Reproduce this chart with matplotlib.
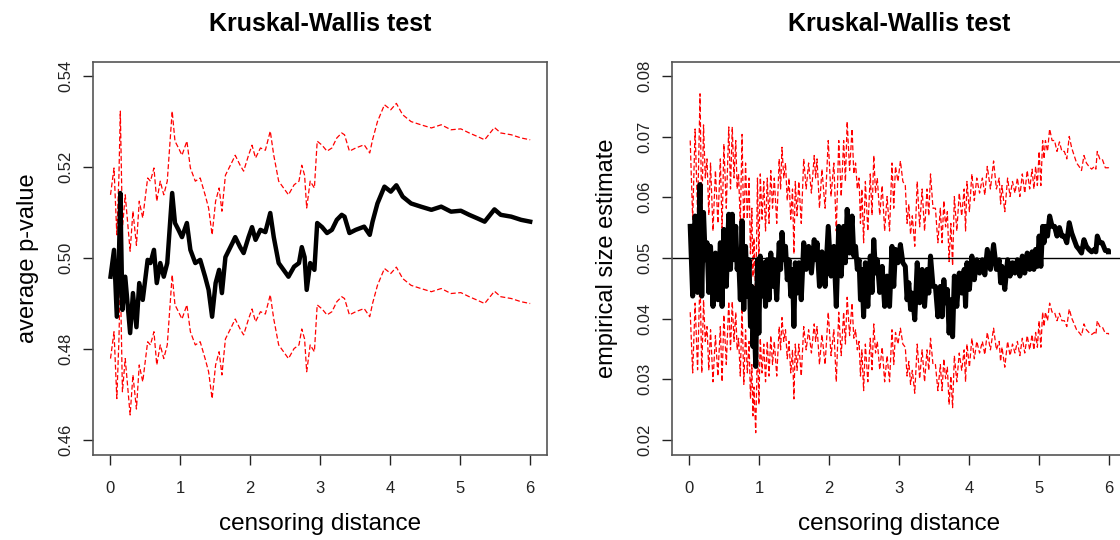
import numpy as np
import matplotlib
matplotlib.use("Agg")
import matplotlib.pyplot as plt

plt.rcParams['font.family'] = ['Liberation Sans', 'DejaVu Sans']

# left panel: average p-value vs censoring distance
pval_x = [0.01, 0.06, 0.10, 0.13, 0.15, 0.18, 0.22, 0.29, 0.33, 0.38, 0.42, 0.47,
          0.54, 0.58, 0.63, 0.67, 0.72, 0.77, 0.82, 0.89, 0.93, 0.98, 1.03, 1.10,
          1.15, 1.22, 1.29, 1.36, 1.41, 1.46, 1.51, 1.56, 1.60, 1.65, 1.75, 1.79,
          1.86, 1.91, 1.98, 2.03, 2.08, 2.15, 2.22, 2.29, 2.34, 2.41, 2.48, 2.55,
          2.63, 2.70, 2.74, 2.78, 2.81, 2.86, 2.92, 2.96, 3.03, 3.10, 3.17, 3.24,
          3.31, 3.35, 3.42, 3.51, 3.63, 3.71, 3.75, 3.82, 3.92, 4.01, 4.09, 4.18,
          4.30, 4.44, 4.59, 4.73, 4.87, 5.01, 5.13, 5.25, 5.35, 5.49, 5.58, 5.73,
          5.87, 6.00]
pval_mean = [0.4959, 0.5018, 0.4871, 0.5000, 0.5143, 0.4886, 0.4959, 0.4835, 0.4923,
             0.4848, 0.4945, 0.4908, 0.4996, 0.4989, 0.5018, 0.4945, 0.4989, 0.4959,
             0.4989, 0.5143, 0.5077, 0.5062, 0.5046, 0.5077, 0.5018, 0.4989, 0.4996,
             0.4959, 0.4930, 0.4871, 0.4945, 0.4974, 0.4923, 0.5002, 0.5033, 0.5046,
             0.5024, 0.5011, 0.5046, 0.5068, 0.5040, 0.5062, 0.5057, 0.5099, 0.5046,
             0.4989, 0.4974, 0.4959, 0.4981, 0.4989, 0.5024, 0.5002, 0.4930, 0.4989,
             0.4974, 0.5077, 0.5068, 0.5055, 0.5062, 0.5084, 0.5095, 0.5091, 0.5055,
             0.5062, 0.5069, 0.5051, 0.5080, 0.5120, 0.5157, 0.5146, 0.5160, 0.5135,
             0.5120, 0.5113, 0.5106, 0.5113, 0.5102, 0.5104, 0.5095, 0.5087, 0.5080,
             0.5107, 0.5095, 0.5091, 0.5084, 0.5080]
pval_band = 0.018   # half width of the red band

# right panel: empirical size, upper/lower edge of the jagged line
size_x = [0.02, 0.09, 0.16, 0.21, 0.26, 0.31, 0.38, 0.45, 0.50, 0.57, 0.62, 0.67,
          0.71, 0.76, 0.81, 0.86, 0.90, 0.93, 0.98, 1.02, 1.07, 1.12, 1.17, 1.22,
          1.29, 1.33, 1.38, 1.43, 1.48, 1.52, 1.57, 1.64, 1.71, 1.79, 1.83, 1.90,
          1.99, 2.07, 2.14, 2.21, 2.26, 2.33, 2.38, 2.43, 2.47, 2.52, 2.59, 2.64,
          2.69, 2.76, 2.83, 2.90, 2.95, 3.02, 3.09, 3.14, 3.19, 3.26, 3.33, 3.40,
          3.45, 3.52, 3.59, 3.64, 3.69, 3.74, 3.79, 3.86, 3.93, 3.97, 4.04, 4.11,
          4.19, 4.26, 4.35, 4.43, 4.47, 4.55, 4.62, 4.69, 4.76, 4.83, 4.90, 4.95,
          5.00, 5.05, 5.09, 5.15, 5.22, 5.29, 5.36, 5.43, 5.50, 5.57, 5.64, 5.71,
          5.79, 5.83, 5.90, 5.99]
size_hi = [0.0552, 0.0569, 0.0621, 0.0575, 0.0525, 0.0519, 0.0508, 0.0525, 0.0547,
           0.0572, 0.0572, 0.0552, 0.0503, 0.0561, 0.0519, 0.0497, 0.0453, 0.0410,
           0.0497, 0.0503, 0.0492, 0.0497, 0.0508, 0.0497, 0.0525, 0.0542, 0.0519,
           0.0497, 0.0481, 0.0492, 0.0492, 0.0525, 0.0519, 0.0530, 0.0525, 0.0510,
           0.0552, 0.0519, 0.0552, 0.0552, 0.0580, 0.0569, 0.0519, 0.0497, 0.0481,
           0.0492, 0.0503, 0.0530, 0.0497, 0.0486, 0.0470, 0.0519, 0.0514, 0.0522,
           0.0486, 0.0459, 0.0442, 0.0492, 0.0481, 0.0481, 0.0503, 0.0453, 0.0453,
           0.0464, 0.0448, 0.0431, 0.0470, 0.0475, 0.0481, 0.0492, 0.0503, 0.0497,
           0.0497, 0.0514, 0.0522, 0.0497, 0.0486, 0.0497, 0.0492, 0.0497, 0.0503,
           0.0508, 0.0510, 0.0514, 0.0536, 0.0552, 0.0552, 0.0569, 0.0552, 0.0550,
           0.0536, 0.0558, 0.0530, 0.0514, 0.0530, 0.0514, 0.0514, 0.0536, 0.0525,
           0.0512]
size_lo = [0.0437, 0.0443, 0.0437, 0.0497, 0.0443, 0.0420, 0.0431, 0.0420, 0.0453,
           0.0481, 0.0497, 0.0481, 0.0431, 0.0415, 0.0437, 0.0387, 0.0354, 0.0321,
           0.0376, 0.0437, 0.0420, 0.0431, 0.0453, 0.0431, 0.0481, 0.0497, 0.0464,
           0.0437, 0.0387, 0.0442, 0.0431, 0.0481, 0.0475, 0.0497, 0.0453, 0.0453,
           0.0470, 0.0420, 0.0470, 0.0492, 0.0508, 0.0503, 0.0481, 0.0431, 0.0403,
           0.0420, 0.0443, 0.0475, 0.0443, 0.0420, 0.0420, 0.0453, 0.0492, 0.0492,
           0.0431, 0.0415, 0.0398, 0.0426, 0.0420, 0.0442, 0.0453, 0.0403, 0.0403,
           0.0426, 0.0376, 0.0370, 0.0420, 0.0442, 0.0420, 0.0448, 0.0464, 0.0475,
           0.0472, 0.0481, 0.0481, 0.0459, 0.0448, 0.0470, 0.0475, 0.0470, 0.0475,
           0.0481, 0.0481, 0.0486, 0.0486, 0.0525, 0.0536, 0.0552, 0.0536, 0.0536,
           0.0525, 0.0541, 0.0519, 0.0508, 0.0519, 0.0510, 0.0510, 0.0525, 0.0512,
           0.0510]
n_rep = 1000        # replications behind the size estimate
nominal = 0.05

x_ticks = [0, 1, 2, 3, 4, 5, 6]
pval_ticks = [0.46, 0.48, 0.50, 0.52, 0.54]
size_ticks = [0.02, 0.03, 0.04, 0.05, 0.06, 0.07, 0.08]

# jagged size line: alternate between the upper and lower edge
sx = np.array(size_x)
mids = np.append((sx[:-1] + sx[1:]) / 2, sx[-1])
size_line_x = np.column_stack([sx, mids]).ravel()
size_line = np.column_stack([size_hi, size_lo]).ravel()
size_half = 1.96 * np.sqrt(size_line * (1 - size_line) / n_rep)

pm = np.array(pval_mean)

fig = plt.figure(figsize=(11.2, 5.4), dpi=100)
ax1 = fig.add_axes([93 / 1120, 85 / 540, 454 / 1120, 393 / 540])
ax2 = fig.add_axes([672 / 1120, 85 / 540, 454 / 1120, 393 / 540])

dash = (0, (4, 2))
ax1.plot(pval_x, pm + pval_band, color='red', lw=0.9, ls=dash)
ax1.plot(pval_x, pm - pval_band, color='red', lw=0.9, ls=dash)
ax1.plot(pval_x, pm, color='black', lw=3.2)
ax1.set_ylim(0.4567, 0.5431)
ax1.set_yticks(pval_ticks)
ax1.set_yticklabels(['0.46', '0.48', '0.50', '0.52', '0.54'])
ax1.set_ylabel('average p-value', fontsize=17, labelpad=14)

ax2.plot(size_line_x, size_line + size_half, color='red', lw=0.9, ls=dash)
ax2.plot(size_line_x, size_line - size_half, color='red', lw=0.9, ls=dash)
ax2.plot(size_line_x, size_line, color='black', lw=3.6)
ax2.axhline(nominal, color='black', lw=1)
ax2.set_ylim(0.0175, 0.0823)
ax2.set_yticks(size_ticks)
ax2.set_yticklabels(['0.02', '0.03', '0.04', '0.05', '0.06', '0.07', '0.08'])
ax2.set_ylabel('empirical size estimate', fontsize=17, labelpad=14)

for ax in (ax1, ax2):
    ax.set_xlim(-0.24, 6.24)
    ax.set_xticks(x_ticks)
    ax.set_title('Kruskal-Wallis test', fontsize=18, fontweight='bold', pad=22)
    ax.set_xlabel('censoring distance', fontsize=17.5, labelpad=12)
    ax.tick_params(direction='out', length=7, width=1, labelsize=12,
                   colors='#222222')
    ax.tick_params(axis='x', pad=12)
    ax.tick_params(axis='y', pad=7)
    for lab in ax.get_yticklabels():
        lab.set_rotation(90)
        lab.set_va('center')
    for sp in ax.spines.values():
        sp.set_color('#555555')
        sp.set_linewidth(1.2)

fig.savefig('out.png', dpi=100)
